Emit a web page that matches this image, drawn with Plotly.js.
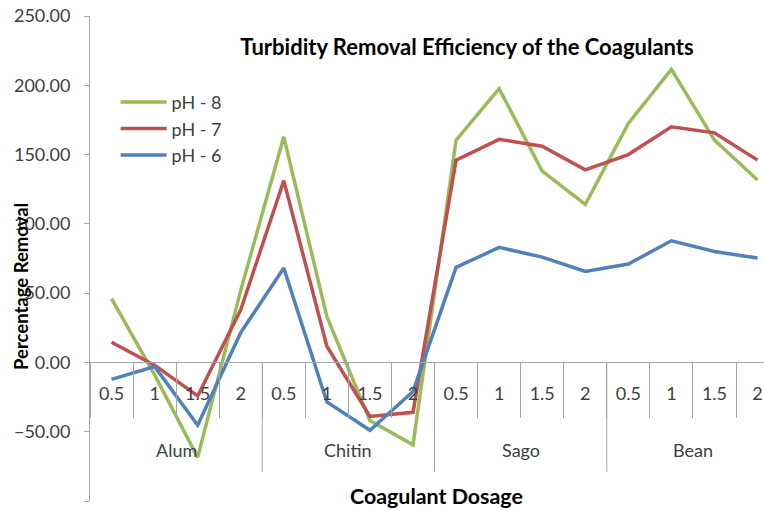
<!DOCTYPE html>
<html>
<head>
<meta charset="utf-8">
<script src="https://cdn.plot.ly/plotly-3.0.1.min.js"></script>
<style>
  html, body { margin: 0; padding: 0; background: #ffffff; }
  #chart { width: 764px; height: 511px; }
</style>
</head>
<body>
<div id="chart"></div>
<script>
// ---- Data ----
const groups = ['Alum', 'Chitin', 'Sago', 'Bean'];
const dosages = ['0.5', '1', '1.5', '2'];
const ph8 = [46, -9, -68.5, 52, 162.8, 33, -42, -59.5, 160.4, 197.6, 138, 114, 172.4, 211.5, 160.4, 131.7];
const ph7 = [14.6, -2, -24.2, 38, 131.2, 11.7, -39, -36, 146, 161, 156, 139, 150, 170, 165.7, 146];
const ph6 = [-12.2, -3, -45.3, 21.5, 68.1, -28.5, -49, -21, 68.6, 83, 76, 65.7, 71, 87.8, 80, 75.3];
const seriesNames = ['pH - 8', 'pH - 7', 'pH - 6'];
const yTickVals = [-100, -50, 0, 50, 100, 150, 200, 250];

// ---- Build categories ----
const cats = [];
const catText = [];
groups.forEach(g => dosages.forEach(d => { cats.push(g + ' ' + d); catText.push(d); }));

const FONT = 'Lato, "Open Sans", sans-serif';
const colors = ['#9BBB59', '#C0504D', '#4F81BD'];
const values = [ph8, ph7, ph6];

const traces = values.map((v, i) => ({
  type: 'scatter',
  mode: 'lines',
  x: cats,
  y: v,
  name: seriesNames[i],
  line: { color: colors[i], width: 3.5 }
}));

// group separators and labels
const shapes = [];
const annotations = [];
const per = dosages.length;
groups.forEach((g, gi) => {
  const start = gi * per - 0.5;
  if (gi > 0) {
    shapes.push({ type: 'line', xref: 'x', yref: 'y', x0: start, x1: start, y0: 0, y1: -79,
      line: { color: '#A6A6A6', width: 1 } });
  }
  annotations.push({ xref: 'x', yref: 'y', x: start + per / 2, y: -63.5, text: g,
    showarrow: false, xanchor: 'center', yanchor: 'middle',
    font: { family: FONT, size: 18, color: '#404040' } });
});

annotations.push({ xref: 'paper', yref: 'paper', x: (436 - 90) / 674, y: (511 - 10 - 496) / 485,
  text: '<b>Coagulant Dosage</b>', showarrow: false, xanchor: 'center', yanchor: 'middle',
  font: { family: FONT, size: 21.4, color: '#000000' } });

annotations.push({ xref: 'paper', yref: 'paper', x: -(90 - 21) / 674, y: (511 - 10 - 287) / 485,
  text: '<b>Percentage Removal</b>', showarrow: false, textangle: -90, xanchor: 'center', yanchor: 'middle',
  font: { family: FONT, size: 18.5, color: '#000000' } });

const layout = {
  width: 764, height: 511,
  margin: { l: 90, r: 0, t: 16, b: 10, pad: 0 },
  paper_bgcolor: '#ffffff', plot_bgcolor: '#ffffff',
  showlegend: true,
  title: { text: '<b>Turbidity Removal Efficiency of the Coagulants</b>',
    x: 467 / 764, xanchor: 'center', xref: 'container',
    y: 1 - 47 / 511, yanchor: 'middle', yref: 'container',
    font: { family: FONT, size: 22, color: '#000000' } },
  legend: { x: 0.038, y: 0.86, xanchor: 'left', yanchor: 'top',
    bgcolor: 'rgba(0,0,0,0)', borderwidth: 0, itemwidth: 46,
    font: { family: FONT, size: 18, color: '#404040' } },
  xaxis: {
    type: 'category', categoryorder: 'array', categoryarray: cats,
    tickvals: cats, ticktext: catText,
    range: [-0.5, 15.15],
    anchor: 'free', position: 100 / 350,
    showline: true, linecolor: '#A6A6A6', linewidth: 1,
    ticks: 'outside', tickson: 'boundaries', ticklen: 55, tickcolor: '#A6A6A6', tickwidth: 1,
    ticklabelstandoff: 15,
    showgrid: false, zeroline: false,
    tickfont: { family: FONT, size: 18, color: '#404040' },
    fixedrange: true
  },
  yaxis: {
    range: [-100, 250], tickvals: yTickVals, tickformat: '.2f',
    showline: true, linecolor: '#A6A6A6', linewidth: 1,
    ticks: 'outside', ticklen: 5, tickcolor: '#A6A6A6',
    ticklabelstandoff: 10,
    showgrid: false, zeroline: false,
    tickfont: { family: FONT, size: 18, color: '#404040' },
    fixedrange: true
  },
  shapes: shapes,
  annotations: annotations
};

Plotly.newPlot('chart', traces, layout, { displayModeBar: false, staticPlot: true });
</script>
</body>
</html>
